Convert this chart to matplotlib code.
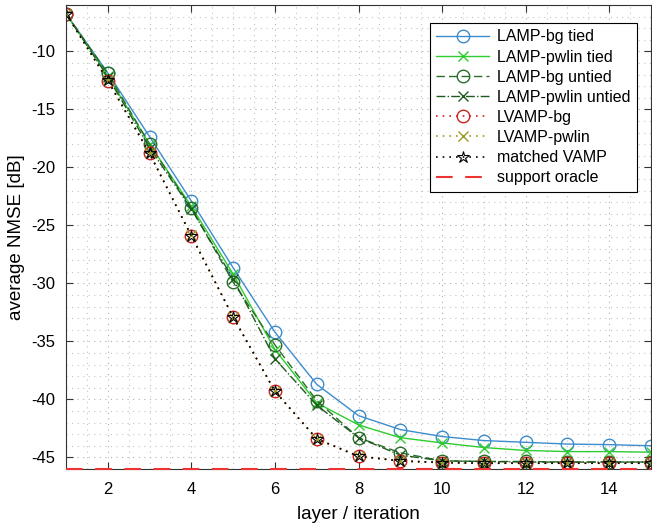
import numpy as np
import matplotlib
matplotlib.use("Agg")
import matplotlib.pyplot as plt
from matplotlib.ticker import MultipleLocator

plt.rcParams['font.family'] = ['Liberation Sans', 'DejaVu Sans']
plt.rcParams['axes.unicode_minus'] = False

layers = list(range(1, 16))

lamp_bg_tied = [-6.75, -11.85, -17.35, -22.9, -28.65, -34.2, -38.7, -41.4, -42.6, -43.2, -43.55, -43.7, -43.85, -43.9, -44.0]
lamp_pwlin_tied = [-6.75, -12.1, -18.0, -23.35, -29.2, -35.7, -40.3, -42.2, -43.3, -43.75, -44.15, -44.4, -44.5, -44.5, -44.55]
lamp_bg_untied = [-6.75, -11.9, -18.0, -23.5, -29.9, -35.3, -40.1, -43.3, -44.6, -45.3, -45.35, -45.35, -45.4, -45.4, -45.4]
lamp_pwlin_untied = [-6.75, -12.2, -18.3, -23.6, -29.6, -36.5, -40.5, -43.3, -44.8, -45.3, -45.35, -45.4, -45.4, -45.4, -45.4]
lvamp_bg = [-6.75, -12.55, -18.8, -25.9, -32.9, -39.3, -43.4, -44.9, -45.3, -45.45, -45.5, -45.5, -45.5, -45.5, -45.5]
lvamp_pwlin = [-6.75, -12.5, -18.75, -25.85, -32.9, -39.3, -43.4, -44.9, -45.3, -45.45, -45.5, -45.5, -45.5, -45.5, -45.5]
matched_vamp = [-6.75, -12.5, -18.8, -25.9, -32.9, -39.3, -43.4, -44.9, -45.3, -45.45, -45.5, -45.5, -45.5, -45.5, -45.5]
support_oracle = [-46.0] * 15

labels = ['LAMP-bg tied', 'LAMP-pwlin tied', 'LAMP-bg untied', 'LAMP-pwlin untied',
          'LVAMP-bg', 'LVAMP-pwlin', 'matched VAMP', 'support oracle']

fig = plt.figure(figsize=(6.52, 5.25), dpi=100)
ax = fig.add_axes([66/652, 56/525, 585/652, 464/525])

ms = 9
xms = 6.5
dot = (1, 3)
ax.plot(layers, lamp_bg_tied, '-', color='#3d8ccc', lw=1.0, marker='o', ms=ms, mfc='none', mew=1.0, label=labels[0])
ax.plot(layers, lamp_pwlin_tied, '-', color='#2ecc2e', lw=1.0, marker='x', ms=xms, mew=1.0, label=labels[1])
ax.plot(layers, lamp_bg_untied, '--', color='#2a6e2a', lw=1.0, marker='o', ms=ms, mfc='none', mew=1.0,
        dashes=(6, 3), label=labels[2])
ax.plot(layers, lamp_pwlin_untied, '-.', color='#1f5a1f', lw=1.0, marker='x', ms=xms, mew=1.0, label=labels[3])
ax.plot(layers, lvamp_bg, ':', color='#cc2222', lw=1.2, marker='o', ms=ms, mfc='none', mew=1.0,
        dashes=dot, label=labels[4])
ax.plot(layers, lvamp_pwlin, ':', color='#999926', lw=1.2, marker='x', ms=xms, mew=1.0,
        dashes=dot, label=labels[5])
ax.plot(layers, matched_vamp, ':', color='black', lw=1.2, marker='*', ms=9, mfc='none', mew=0.8,
        dashes=dot, label=labels[6])
ax.plot(layers, support_oracle, '--', color='#ee3333', lw=1.5, dashes=(8, 6), label=labels[7], clip_on=False, zorder=5)

ax.set_xlim(1, 15)
ax.set_ylim(-46, -6)
ax.set_xticks(range(2, 15, 2))
ax.set_yticks(range(-45, -9, 5))
ax.xaxis.set_minor_locator(MultipleLocator(0.5))
ax.yaxis.set_minor_locator(MultipleLocator(1))
ax.grid(True, which='major', linestyle=(0, (1, 4)), color='#b0b0b0', lw=0.8)
ax.grid(True, which='minor', linestyle=(0, (1, 4)), color='#c4c4c4', lw=0.8)
ax.tick_params(which='both', direction='in', top=True, right=True, labelsize=12)
ax.tick_params(which='major', length=5, color='#333333')
ax.tick_params(which='minor', length=0)
ax.tick_params(axis='x', which='major', pad=9)
ax.tick_params(axis='y', which='major', pad=8)
for s in ax.spines.values():
    s.set_color('#333333')
    s.set_linewidth(0.8)

ax.set_xlabel('layer / iteration', fontsize=13.5, labelpad=7)
ax.set_ylabel('average NMSE [dB]', fontsize=13.5)

leg = ax.legend(loc='upper right', bbox_to_anchor=(0.976, 0.961), borderaxespad=0,
                fontsize=11.5, handlelength=3.3, fancybox=False, framealpha=1,
                edgecolor='black', labelspacing=0.32, borderpad=0.4, handletextpad=0.5)
leg.get_frame().set_linewidth(0.8)

fig.savefig('out.png', dpi=100)
